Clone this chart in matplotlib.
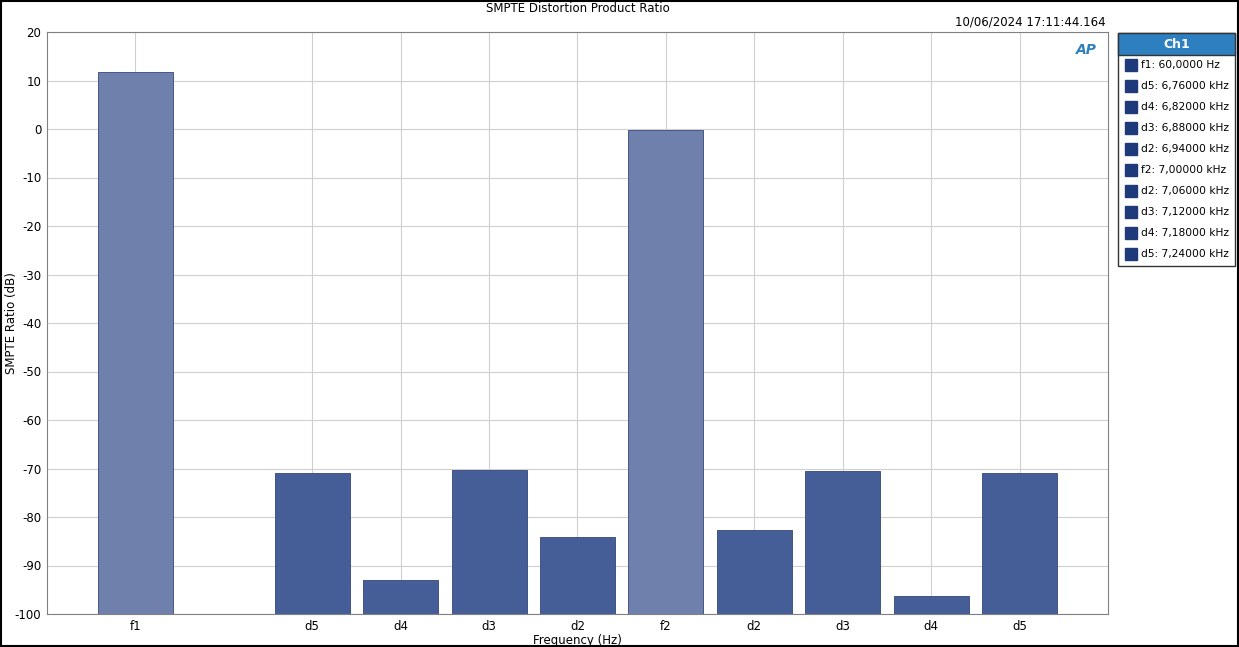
import matplotlib.pyplot as plt
from matplotlib.patches import Rectangle

plt.rcParams["axes.unicode_minus"] = False

labels = ["f1", "d5", "d4", "d3", "d2", "f2", "d2", "d3", "d4", "d5"]
slots = [0, 2, 3, 4, 5, 6, 7, 8, 9, 10]
values = [11.8, -70.9, -93.0, -70.3, -84.1, -0.2, -82.7, -70.5, -96.3, -70.9]
legend_items = ["f1: 60,0000 Hz", "d5: 6,76000 kHz", "d4: 6,82000 kHz", "d3: 6,88000 kHz",
                "d2: 6,94000 kHz", "f2: 7,00000 kHz", "d2: 7,06000 kHz", "d3: 7,12000 kHz",
                "d4: 7,18000 kHz", "d5: 7,24000 kHz"]

W, H = 1239, 647
fig = plt.figure(figsize=(W / 100, H / 100), dpi=100)
ax = fig.add_axes([47 / W, 1 - 614 / H, (1108 - 47) / W, (614 - 32) / H])

colors = ["#6f80ad" if l.startswith("f") else "#465e98" for l in labels]
ax.bar(slots, [v + 100 for v in values], bottom=-100, width=0.85,
       color=colors, edgecolor="#34467a", linewidth=0.6, zorder=2)

ax.set_xlim(-1, 11)
ax.set_ylim(-100, 20)
ax.set_yticks(range(-100, 21, 10))
ax.set_xticks(slots)
ax.set_xticklabels(labels)
ax.tick_params(labelsize=8.5, length=0, pad=4)
ax.grid(True, color="#d0d0d0", linewidth=0.8, zorder=0)
ax.set_axisbelow(True)
for s in ax.spines.values():
    s.set_color("#808080")
ax.set_xlabel("Frequency (Hz)", fontsize=8.5, labelpad=1)
fig.text(12 / W, 1 - 323 / H, "SMPTE Ratio (dB)", rotation=90, ha="center", va="center",
         fontsize=8.5)

fig.text(0.5 * (1108 + 47) / W, 1 - 8 / H, "SMPTE Distortion Product Ratio",
         ha="center", va="center", fontsize=8.5)
fig.text(1106 / W, 1 - 22 / H, "10/06/2024 17:11:44.164", ha="right", va="center", fontsize=8.5)
fig.text(1086 / W, 1 - 50 / H, "AP", ha="center", va="center", fontsize=10,
         color="#2e7fbf", style="italic", weight="bold")

# legend panel
lx, ly, lw, lh = 1118, 33, 117, 233
fig.patches.append(Rectangle((lx / W, 1 - (ly + lh) / H), lw / W, lh / H,
                             transform=fig.transFigure, facecolor="white",
                             edgecolor="#333333", linewidth=1))
fig.patches.append(Rectangle((lx / W, 1 - (ly + 22) / H), lw / W, 22 / H,
                             transform=fig.transFigure, facecolor="#2e7fbf",
                             edgecolor="#333333", linewidth=1))
fig.text((lx + lw / 2) / W, 1 - (ly + 11) / H, "Ch1", ha="center", va="center",
         color="white", fontsize=9, weight="bold")
for i, t in enumerate(legend_items):
    y = ly + 32 + i * 21
    fig.patches.append(Rectangle(((lx + 7) / W, 1 - (y + 6) / H), 12 / W, 12 / H,
                                 transform=fig.transFigure, facecolor="#1f3a7a",
                                 edgecolor="#1f3a7a"))
    fig.text((lx + 23) / W, 1 - y / H, t, ha="left", va="center", fontsize=7.7)

# outer border
fig.patches.append(Rectangle((0.0005, 0.001), 0.999, 0.998, transform=fig.transFigure,
                             fill=False, edgecolor="black", linewidth=1.5))

fig.savefig("out.png", dpi=100)
